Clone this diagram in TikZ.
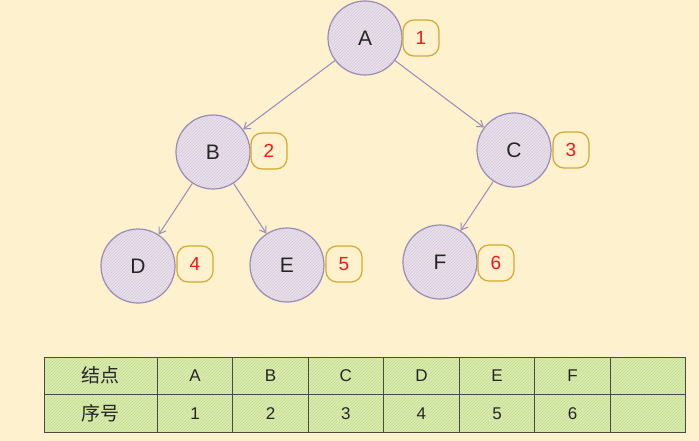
\documentclass[tikz,border=0pt]{standalone}
\usepackage{fontspec}
\setmainfont{Liberation Sans}
\newfontfamily\cjk{Noto Sans CJK SC}
\usetikzlibrary{arrows.meta,patterns}
\definecolor{bgc}{HTML}{FDF1CE}
\definecolor{circfill}{HTML}{EAE2EB}
\definecolor{circhatch}{HTML}{D3C8DB}
\definecolor{circline}{HTML}{9A8BB8}
\definecolor{badgeline}{HTML}{D4AA2E}
\definecolor{cellfill}{HTML}{DDEDB4}
\definecolor{cellhatch}{HTML}{BFDA88}
\definecolor{cellline}{HTML}{4A4A44}
\definecolor{numred}{HTML}{F01818}
\definecolor{edgec}{HTML}{9A8BB8}
\tikzset{
  treenode/.style={circle, draw=circline, line width=1.2pt, minimum size=74pt, inner sep=0pt,
    preaction={fill=circfill}, pattern=north east lines, pattern color=circhatch,
    font=\fontsize{21}{24}\selectfont, text=black!85},
  badge/.style={draw=badgeline, line width=1.2pt, rounded corners=11pt, fill=bgc,
    minimum size=36pt, inner sep=0pt, text=numred, font=\fontsize{19}{22}\selectfont},
  link/.style={draw=edgec, line width=1pt, -{Straight Barb[length=6pt,width=8pt]}},
  cell/.style={draw=cellline, line width=1pt, minimum height=37.5pt, inner sep=0pt,
    preaction={fill=cellfill}, pattern=north east lines, pattern color=cellhatch,
    font=\fontsize{17}{20}\selectfont, text=black!85},
  wcell/.style={cell, minimum width=113pt},
  ncell/.style={cell, minimum width=75.6pt},
  cjkt/.style={font=\fontsize{19}{22}\selectfont\cjk}
}
\begin{document}
\begin{tikzpicture}[x=1pt,y=-1pt]
\useasboundingbox (0,0) rectangle (699,441);
\fill[bgc] (0,0) rectangle (699,441);
% tree nodes
\node[treenode] (A) at (365,38) {A};
\node[treenode] (B) at (213,152) {B};
\node[treenode] (C) at (514,150) {C};
\node[treenode] (D) at (138,266) {D};
\node[treenode] (E) at (287,265) {E};
\node[treenode] (F) at (440,262) {F};
% badges
\node[badge] (nA) at (421,38) {1};
\node[badge] (nB) at (269,151) {2};
\node[badge] (nC) at (571,150) {3};
\node[badge] (nD) at (195,264) {4};
\node[badge] (nE) at (344,264) {5};
\node[badge] (nF) at (496,263) {6};
% edges
\draw[link] (A) -- (B);
\draw[link] (A) -- (C);
\draw[link] (B) -- (D);
\draw[link] (B) -- (E);
\draw[link] (C) -- (F);
% table
\node[wcell, cjkt] (h0) at (100.5,375.75) {结点};
\node[wcell, cjkt] (r0) at (100.5,413.25) {序号};
\node[ncell] (h1) at (195,375.75) {A};
\node[ncell] (r1) at (195,413.25) {1};
\node[ncell] (h2) at (270.5,375.75) {B};
\node[ncell] (r2) at (270.5,413.25) {2};
\node[ncell] (h3) at (345.8,375.75) {C};
\node[ncell] (r3) at (345.8,413.25) {3};
\node[ncell] (h4) at (421.4,375.75) {D};
\node[ncell] (r4) at (421.4,413.25) {4};
\node[ncell] (h5) at (497,375.75) {E};
\node[ncell] (r5) at (497,413.25) {5};
\node[ncell] (h6) at (572.5,375.75) {F};
\node[ncell] (r6) at (572.5,413.25) {6};
\node[ncell] (h7) at (648,375.75) {};
\node[ncell] (r7) at (648,413.25) {};
\end{tikzpicture}
\end{document}
